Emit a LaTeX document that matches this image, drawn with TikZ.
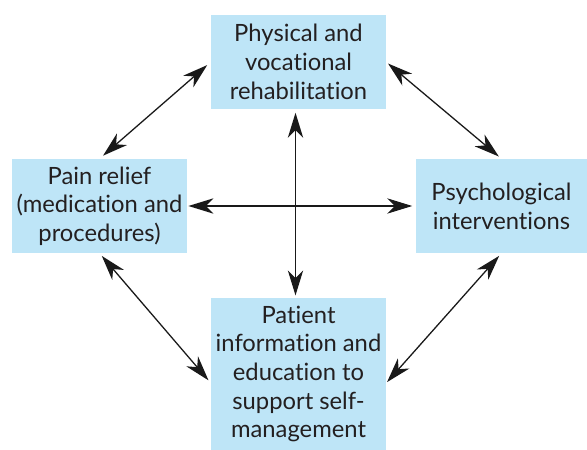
\documentclass[tikz,border=0pt]{standalone}
\usepackage{fontspec}
\setmainfont[Ligatures={NoCommon,NoRare}]{Lato}
\usepackage{tikz}
\usetikzlibrary{arrows.meta}

\definecolor{boxblue}{RGB}{190,229,247}
\definecolor{inkgrey}{RGB}{35,31,32}

\begin{document}
\begin{tikzpicture}[x=0.03cm, y=-0.03cm,
		box/.style={fill=boxblue, text=inkgrey, align=center, inner sep=0pt, minimum width=5.25cm, minimum height=2.82cm, font=\fontsize{20.3}{24.5}\selectfont},
		link/.style={{Stealth[length=7.5mm,width=4.6mm,inset=2.3mm]}-{Stealth[length=7.5mm,width=4.6mm,inset=2.3mm]}, line width=1.1pt, draw=black!90}]
		\begingroup
		\useasboundingbox (0,0) rectangle (587,450);
		
		\node[box] (rehab) at (298.5, 62) {Physical and\\vocational\\rehabilitation};
		\node[box] (pain) at (99.5, 206) {Pain relief\\(medication and\\procedures)};
		\node[box, minimum width=5.13cm] (psych) at (501.5, 206) {Psychological\\interventions};
		\node[box, minimum height=4.56cm] (educ) at (298.5, 374) {Patient\\information and\\education to\\support self-\\management};
		
		\draw[link, shorten <=4pt, shorten >=4pt] (pain.north) -- (rehab.west);
		\draw[link, shorten <=2pt, shorten >=3pt] (rehab.east) -- (psych.north);
		\draw[link, shorten <=3pt, shorten >=3pt] (pain.south) -- ([yshift=-0.27cm]educ.west);
		\draw[link, shorten <=3pt, shorten >=1pt] (psych.south) -- ([yshift=-0.27cm]educ.east);
		\draw[link, shorten <=3pt, shorten >=2pt] ([xshift=-0.09cm]rehab.south) -- ([xshift=-0.09cm]educ.north);
		\draw[link, shorten <=1pt, shorten >=3pt] (pain.east) -- (psych.west);
		\endgroup
		\end{tikzpicture}
\end{document}
